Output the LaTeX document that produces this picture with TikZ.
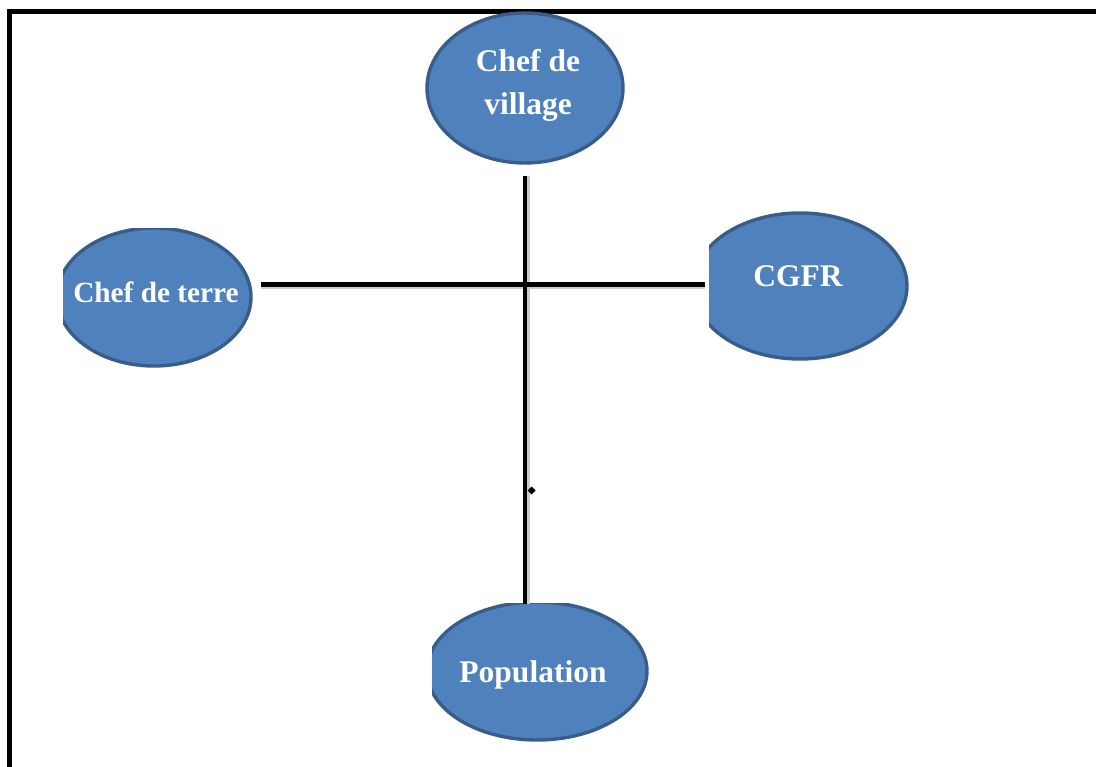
\documentclass[tikz,border=0pt]{standalone}
\usepackage{fontspec}
\setmainfont{Liberation Serif}
\usetikzlibrary{shapes.geometric}
\definecolor{fillblue}{HTML}{4F81BD}
\definecolor{edgeblue}{HTML}{385D8A}
\begin{document}
\begin{tikzpicture}[x=1pt,y=-1pt,
  bubble/.style={ellipse, fill=fillblue, draw=edgeblue, line width=3.4pt, inner sep=0pt},
  lbl/.style={text=white, inner sep=0pt, anchor=base, font=\bfseries\fontsize{31.5}{43}\selectfont},
  conn/.style={line width=4.8pt, black},
  connshadow/.style={line width=4pt, black!20},
  frameline/.style={line width=5pt, black}]
\clip (0,0) rectangle (1096,767);
\fill[white] (0,0) rectangle (1096,767);
% frame
\draw[frameline] (9.5,800) -- (9.5,11.5) -- (1120,11.5);
% nodes
\node[bubble, minimum width=196pt, minimum height=150pt] (vil) at (525,88) {};
\begin{scope}
  \clip (63,229) rectangle (1096,767);
  \node[bubble, minimum width=194pt, minimum height=138pt] (ter) at (154,297) {};
\end{scope}
\begin{scope}
  \clip (709,0) rectangle (1096,767);
  \node[bubble, minimum width=214pt, minimum height=146pt] (cgfr) at (800,286) {};
\end{scope}
\begin{scope}
  \clip (432,603) rectangle (1096,767);
  \node[bubble, minimum width=220pt, minimum height=138pt] (pop) at (537,671) {};
\end{scope}
% labels
\node[lbl] (vilA) at (528,72) {Chef de};
\node[lbl] (vilB) at (528,115) {village};
\node[lbl, font=\bfseries\fontsize{29.3}{40}\selectfont] (terT) at (156,303) {Chef de terre};
\node[lbl] (cgfrT) at (798,287) {CGFR};
\node[lbl] (popT) at (533,682) {Population};
% connector end points
\coordinate (vtop) at (vil.south |- 0,176);
\coordinate (vbot) at (vil.south |- 0,604);
\coordinate (hleft) at (261,284.5);
\coordinate (hright) at (705,284.5);
% shadows
\draw[connshadow] ([shift={(2.5,0)}]vtop) -- ([shift={(2.5,0)}]vbot);
\draw[connshadow] ([shift={(0,2.5)}]hleft) -- ([shift={(0,2.5)}]hright);
% connectors
\draw[conn] (vtop) -- (vbot);
\draw[conn] (hleft) -- (hright);
% small mark
\fill[black] (531.5,486.5) -- (535.5,490.5) -- (531.5,494.5) -- (527.5,490.5) -- cycle;
\end{tikzpicture}
\end{document}
